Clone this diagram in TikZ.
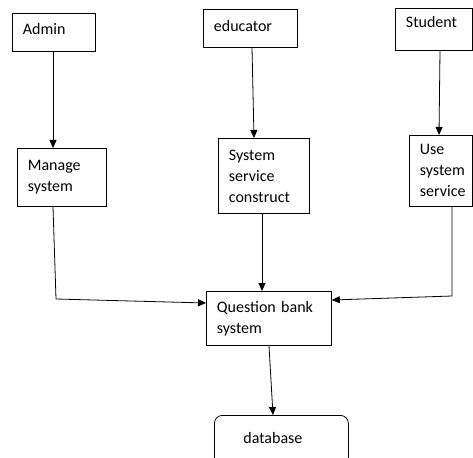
\documentclass[tikz,border=0pt]{standalone}
\usepackage{fontspec}
\setmainfont{Carlito}
\usetikzlibrary{arrows.meta,calc}
\begin{document}
\begin{tikzpicture}[x=1pt,y=-1pt,
  box/.style={draw, rectangle, anchor=north west, inner xsep=10.5pt, inner ysep=0pt,
    align=left, font=\fontsize{16}{21}\selectfont, line width=0.8pt},
  conn/.style={line width=0.8pt, -{Triangle[length=8pt,width=7pt]}},
]
\useasboundingbox (0,0) rectangle (473,457);
\clip (0,0) rectangle (473,457);
\fill[white] (0,0) rectangle (473,457);

\node[box, minimum width=83pt, minimum height=38pt, text width=62pt, text height=11pt, text depth=7pt] (admin) at (12,13) {Admin};
\node[box, minimum width=94pt, minimum height=38pt, text width=73pt, text height=11pt, text depth=4pt] (educator) at (203,9) {educator};
\node[box, minimum width=77pt, minimum height=42pt, text width=56pt, text height=11pt, text depth=15pt] (student) at (395,8) {Student};

\node[box, minimum width=89pt, minimum height=58pt, text width=68pt] (manage) at (17,148) {Manage\\system};
\node[box, minimum width=91pt, minimum height=75pt, text width=70pt] (ssc) at (218,138) {System\\service\\construct};
\node[box, minimum width=63pt, minimum height=71pt, text width=42pt] (uss) at (409,135) {Use\\system\\service};

\node[box, minimum width=125pt, minimum height=54pt, text width=104pt] (qb) at (206,291) {Question bank\\system};
\node[box, rounded corners=8pt, inner xsep=29pt, minimum width=134pt, minimum height=50pt, text width=76pt, text height=11pt, text depth=5.5pt] (db) at (214,415) {database};

\coordinate (mbend) at (56,299);
\coordinate (ubend) at (452,296);

\draw[conn] ($(admin.south west)+(41,0)$) -- ($(manage.north west)+(36,0)$);
\draw[conn] ($(educator.south west)+(49,0)$) -- ($(ssc.north west)+(36,0)$);
\draw[conn] ($(student.south west)+(45,0)$) -- ($(uss.north west)+(30,0)$);

\draw[conn] ($(manage.south west)+(36,0)$) -- (mbend) -- ($(qb.north west)+(0,12)$);
\draw[conn] ($(ssc.south west)+(44,0)$) -- ($(qb.north west)+(56,0)$);
\draw[conn] ($(uss.south west)+(43,0)$) -- (ubend) -- ($(qb.north east)+(0,9)$);
\draw[conn] ($(qb.south west)+(63,0)$) -- ($(db.north west)+(59,0)$);
\end{tikzpicture}
\end{document}
